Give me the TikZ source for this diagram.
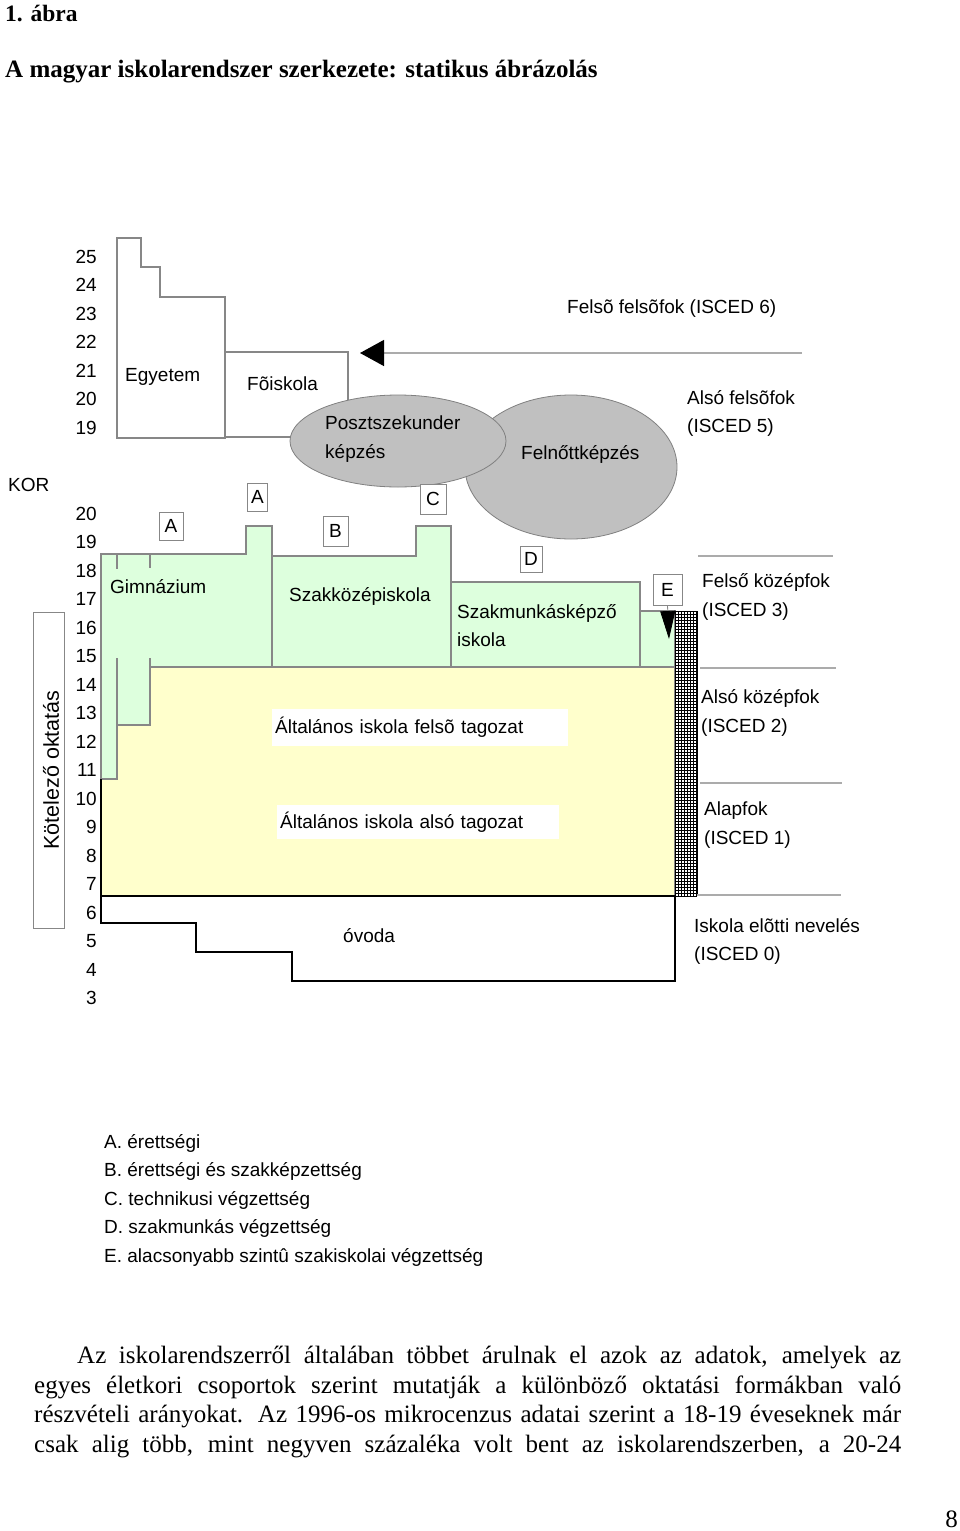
\documentclass[tikz,border=0pt]{standalone}
\usepackage{fontspec}
\setmainfont{Liberation Serif}
\newfontfamily\arialfont{Liberation Sans}
\usetikzlibrary{arrows.meta}
\definecolor{lineg}{RGB}{135,135,135}
\definecolor{paleg}{RGB}{221,255,221}
\definecolor{paley}{RGB}{255,255,204}
\definecolor{blobg}{RGB}{192,192,192}
\begin{document}
\begin{tikzpicture}
[x=1pt,y=-1pt,
  lbl/.style={font=\arialfont\fontsize{19}{22}\selectfont,inner sep=0pt,anchor=base west},
  agenum/.style={lbl,anchor=base east},
  serif/.style={font=\fontsize{25}{29}\selectfont,inner sep=0pt,anchor=base west},
  titlefont/.style={serif,font=\fontsize{25}{29}\selectfont\bfseries},
  letterbox/.style={draw=lineg,fill=white,line width=0.8pt,inner sep=0pt,font=\arialfont\fontsize{19}{22}\selectfont},
  whitebox/.style={lbl,fill=white,anchor=north west,inner xsep=3pt,inner ysep=0pt,align=left},
  outline/.style={draw=lineg,line width=1.2pt},
  greenpart/.style={outline,fill=paleg},
  blob/.style={draw=gray,fill=blobg,line width=0.8pt},
  thickblack/.style={draw=black,line width=2.4pt,line join=miter},
  sepline/.style={draw=lineg!70,line width=1.3pt},
  hatch/.style={line width=0.9pt}]
\useasboundingbox (0,0) rectangle (960,1531);
% title
\node (fignum) at (5,21) [titlefont,font=\fontsize{23.5}{28}\selectfont\bfseries] {1. ábra};
\node (figtitle) at (5,77) [titlefont] {A magyar iskolarendszer szerkezete: statikus ábrázolás};
% age scale
\foreach \a in {25,24,...,19}
  \node (up\a) at (97,{263+(25-\a)*28.5}) [agenum] {\a};
\foreach \a in {20,19,...,3}
  \node (lo\a) at (97,{520+(20-\a)*28.5}) [agenum] {\a};
\node (kor) at (8,491) [lbl] {KOR};
\draw[outline,line width=0.8pt] (33,612) rectangle (64,928);
\node (kotelezo) at (51,770) [lbl,anchor=center,rotate=90,font=\arialfont\fontsize{21.5}{24}\selectfont] {Kötelező oktatás};
% higher education
\draw[outline] (117,238) -- (141,238) -- (141,267) -- (160,267) -- (160,297) -- (225,297) -- (225,438) -- (117,438) -- cycle;
\draw[outline] (225,352) rectangle (348,437);
\coordinate (isc6end) at (802,353);
\coordinate (isc6tip) at (360,353);
\draw[sepline,-{Triangle[length=24pt,width=26pt,black]}] (isc6end) -- (isc6tip);
\draw[blob] (571,467) ellipse [x radius=106pt,y radius=72pt];
\draw[blob] (398,441) ellipse [x radius=108pt,y radius=46pt];
% secondary
\draw[greenpart] (101,554) -- (246,554) -- (246,526) -- (272,526) -- (272,667) -- (150,667) -- (150,725) -- (117,725) -- (117,779) -- (101,779) -- cycle;
\draw[outline] (117,554) -- (117,569) (150,554) -- (150,568) (117,658) -- (117,725) (150,658) -- (150,667);
\draw[greenpart] (272,556) -- (416,556) -- (416,526) -- (451,526) -- (451,667) -- (272,667) -- cycle;
\draw[greenpart] (451,582) -- (640,582) -- (640,667) -- (451,667) -- cycle;
\draw[greenpart] (640,611) -- (675,611) -- (675,667) -- (640,667) -- cycle;
% primary and kindergarten
\draw[outline,fill=paley] (101,779) -- (117,779) -- (117,725) -- (150,725) -- (150,667) -- (675,667) -- (675,896) -- (101,896) -- cycle;
\draw[thickblack] (101,779) -- (101,923) -- (196,923) -- (196,952) -- (292,952) -- (292,981) -- (675,981) -- (675,896) -- (101,896);
% hatched column
\fill[white] (675,611) rectangle (697,896);
\foreach \gx in {675,678,...,696}
  \draw[hatch] (\gx,611) -- (\gx,896);
\foreach \gy in {611,614,...,896}
  \draw[hatch] (675,\gy) -- (697,\gy);
\draw[hatch] (697,611) -- (697,896);
% level separators
\draw[sepline] (698,556) -- (833,556);
\draw[sepline] (700,668) -- (836,668);
\draw[sepline] (700,783) -- (842,783);
\draw[sepline] (697,895) -- (841,895);
% letter boxes
\node (gimA) at (171,526) [letterbox,minimum width=24pt,minimum height=28pt] {A};
\node (szkA) at (257.5,497) [letterbox,minimum width=20pt,minimum height=28pt] {A};
\node (szkB) at (335.5,531) [letterbox,minimum width=25pt,minimum height=30pt] {B};
\node (szkC) at (433,499) [letterbox,minimum width=26pt,minimum height=30pt] {C};
\node (smkD) at (531,559) [letterbox,minimum width=22pt,minimum height=26pt] {D};
\node (eE) at (667.5,589.5) [letterbox,minimum width=29pt,minimum height=31pt] {E};
\coordinate (etip) at (669,639);
\draw[outline,line width=0.8pt,-{Triangle[length=28pt,width=15pt,black]}] (eE.south) -- (etip);
% labels
\node (egyetem) at (125,381) [lbl] {Egyetem};
\node (foiskola) at (247,390) [lbl] {Fõiskola};
\node (poszt1) at (325,429) [lbl] {Posztszekunder};
\node (poszt2) at (325,458) [lbl] {képzés};
\node (felnott) at (521,459) [lbl] {Felnőttképzés};
\node (isced6) at (567,313) [lbl] {Felsõ felsõfok (ISCED 6)};
\node (isced5a) at (687,404) [lbl] {Alsó felsõfok};
\node (isced5b) at (687,432) [lbl] {(ISCED 5)};
\node (gimn) at (110,593) [lbl] {Gimnázium};
\node (szakkoz) at (289,601) [lbl] {Szakközépiskola};
\node (szakm1) at (457,618) [lbl] {Szakmunkásképző};
\node (szakm2) at (457,646) [lbl] {iskola};
\node (isced3a) at (702,587) [lbl] {Felső középfok};
\node (isced3b) at (702,616) [lbl] {(ISCED 3)};
\node (isced2a) at (701,703) [lbl] {Alsó középfok};
\node (isced2b) at (701,732) [lbl] {(ISCED 2)};
\node (isced1a) at (704,815) [lbl] {Alapfok};
\node (isced1b) at (704,844) [lbl] {(ISCED 1)};
\node (isced0a) at (694,932) [lbl] {Iskola elõtti nevelés};
\node (isced0b) at (694,960) [lbl] {(ISCED 0)};
\node (felso) at (272,709) [whitebox,text width=290pt,minimum height=37pt] {Általános iskola felsõ tagozat};
\node (also) at (277,805) [whitebox,text width=276pt,minimum height=34pt] {Általános iskola alsó tagozat};
\node (ovoda) at (343,942) [lbl] {óvoda};
% legend
\node (legA) at (104,1148) [lbl] {A. érettségi};
\node (legB) at (104,1176) [lbl] {B. érettségi és szakképzettség};
\node (legC) at (104,1205) [lbl] {C. technikusi végzettség};
\node (legD) at (104,1233) [lbl] {D. szakmunkás végzettség};
\node (legE) at (104,1262) [lbl] {E. alacsonyabb szintû szakiskolai végzettség};
% running text
\node (par1) at (77,1363) [serif] {\makebox[824pt][s]{Az iskolarendszerről általában többet árulnak el azok az adatok, amelyek az}};
\node (par2) at (34,1393) [serif] {\makebox[867pt][s]{egyes életkori csoportok szerint mutatják a különböző oktatási formákban való}};
\node (par3) at (34,1422) [serif] {\makebox[867pt][s]{részvételi arányokat. Az 1996-os mikrocenzus adatai szerint a 18-19 éveseknek már}};
\node (par4) at (34,1452) [serif] {\makebox[867pt][s]{csak alig több, mint negyven százaléka volt bent az iskolarendszerben, a 20-24}};
\node (pagenum) at (958,1527) [serif,anchor=base east] {8};
\end{tikzpicture}
\end{document}
